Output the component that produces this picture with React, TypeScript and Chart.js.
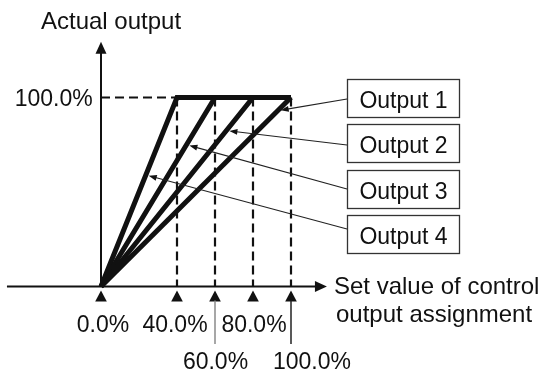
import { useEffect, useRef } from 'react';
import { Chart, registerables } from 'chart.js';

Chart.register(...registerables);

// ---------- data ----------
const SERIES_LABELS = ['Output 1', 'Output 2', 'Output 3', 'Output 4'];
const OUTPUT1_X = [0, 100];
const OUTPUT1_Y = [0, 100];
const OUTPUT2_X = [0, 80, 100];
const OUTPUT2_Y = [0, 100, 100];
const OUTPUT3_X = [0, 60, 100];
const OUTPUT3_Y = [0, 100, 100];
const OUTPUT4_X = [0, 40, 100];
const OUTPUT4_Y = [0, 100, 100];
const GUIDE_X = [40, 60, 80, 100];
const GUIDE_TOP = 100;
const TICK_VALUES = [0, 40, 60, 80, 100];
const TICK_LABELS = ['0.0%', '40.0%', '60.0%', '80.0%', '100.0%'];
const Y_TICK_VALUE = 100;
const Y_TICK_LABEL = '100.0%';
const Y_TITLE = 'Actual output';
const X_TITLE = ['Set value of control', 'output assignment'];
// where along each series (set value) the leader arrow points
const LEADER_TARGET_X = [93, 66, 45, 23.6];

// ---------- layout / style ----------
const W = 542;
const H = 371;
const FONT = '23px "Liberation Sans", Arial, Helvetica, sans-serif';
const TITLE_FONT = '24px "Liberation Sans", Arial, Helvetica, sans-serif';
const INK = '#111';

const X_ZERO_PX = 101;
const X_FULL_PX = 291;
const Y_ZERO_PX = 286.5;
const Y_FULL_PX = 97.5;
const X_UNIT = 100 / (X_FULL_PX - X_ZERO_PX);
const X_MIN = -X_ZERO_PX * X_UNIT;
const X_MAX = X_MIN + W * X_UNIT;
const Y_UNIT = 100 / (Y_ZERO_PX - Y_FULL_PX);
const Y_MAX = 100 + Y_FULL_PX * Y_UNIT;
const Y_MIN = Y_MAX - H * Y_UNIT;

const X_AXIS_START = -49.5;
const X_AXIS_TIP = 118.9;
const Y_AXIS_TIP = 129.5;

// tick label placement: [dx from tick, row]
const TICK_LABEL_DX = [2, -2, 0.5, 1, 21];
const TICK_LABEL_ROW = [0, 0, 1, 0, 1];
const TICK_CONNECTOR = [false, false, true, false, true];
const TICK_CONNECTOR_COLOR = ['', '', '#8a8a8a', '', '#222'];

const BOX_LEFT = 347;
const BOX_W = 112;
const BOX_H = 38;
const BOX_TOPS = [79, 124, 170, 215];
const LEADER_START_Y = [99, 145, 189, 229];

const SERIES_X = [OUTPUT1_X, OUTPUT2_X, OUTPUT3_X, OUTPUT4_X];
const SERIES_Y = [OUTPUT1_Y, OUTPUT2_Y, OUTPUT3_Y, OUTPUT4_Y];

function interp(xs: number[], ys: number[], t: number) {
  for (let i = 0; i < xs.length - 1; i++) {
    if (t >= xs[i] && t <= xs[i + 1]) {
      const f = (t - xs[i]) / (xs[i + 1] - xs[i]);
      return ys[i] + f * (ys[i + 1] - ys[i]);
    }
  }
  return ys[ys.length - 1];
}

function tri(ctx: CanvasRenderingContext2D, tx: number, ty: number, dx: number, dy: number, len: number, hw: number) {
  const bx = tx - dx * len;
  const by = ty - dy * len;
  const nx = -dy;
  const ny = dx;
  ctx.beginPath();
  ctx.moveTo(tx, ty);
  ctx.lineTo(bx + nx * hw, by + ny * hw);
  ctx.lineTo(bx - nx * hw, by - ny * hw);
  ctx.closePath();
  ctx.fill();
}

const diagramPlugin = {
  id: 'diagram',
  beforeDatasetsDraw(chart: any) {
    const ctx: CanvasRenderingContext2D = chart.ctx;
    const xs = chart.scales.x;
    const ys = chart.scales.y;
    const px = (v: number) => xs.getPixelForValue(v);
    const py = (v: number) => ys.getPixelForValue(v);
    ctx.save();
    ctx.strokeStyle = INK;
    ctx.fillStyle = INK;
    ctx.lineWidth = 2;
    const ay = py(0);
    const ax = px(0);
    ctx.beginPath();
    ctx.moveTo(px(X_AXIS_START), ay);
    ctx.lineTo(px(X_AXIS_TIP) - 8, ay);
    ctx.stroke();
    tri(ctx, px(X_AXIS_TIP), ay, 1, 0, 12, 5.5);
    ctx.beginPath();
    ctx.moveTo(ax, ay);
    ctx.lineTo(ax, py(Y_AXIS_TIP) + 8);
    ctx.stroke();
    tri(ctx, ax, py(Y_AXIS_TIP), 0, -1, 12, 5.5);
    ctx.restore();
  },
  afterDatasetsDraw(chart: any) {
    const ctx: CanvasRenderingContext2D = chart.ctx;
    const xs = chart.scales.x;
    const ys = chart.scales.y;
    const px = (v: number) => xs.getPixelForValue(v);
    const py = (v: number) => ys.getPixelForValue(v);
    const ay = py(0);
    ctx.save();
    ctx.fillStyle = INK;
    ctx.strokeStyle = INK;
    ctx.font = FONT;
    ctx.textBaseline = 'alphabetic';

    TICK_VALUES.forEach((v, i) => {
      const x = px(v);
      tri(ctx, x, ay + 4, 0, -1, 11, 5.8);
      if (TICK_CONNECTOR[i]) {
        ctx.save();
        ctx.strokeStyle = TICK_CONNECTOR_COLOR[i];
        ctx.lineWidth = 1.5;
        ctx.beginPath();
        ctx.moveTo(x, ay + 14);
        ctx.lineTo(x, ay + 57.5);
        ctx.stroke();
        ctx.restore();
      }
      ctx.textAlign = 'center';
      const by = TICK_LABEL_ROW[i] === 0 ? ay + 45.5 : ay + 82.5;
      ctx.fillText(TICK_LABELS[i], x + TICK_LABEL_DX[i], by);
    });

    ctx.textAlign = 'right';
    ctx.fillText(Y_TICK_LABEL, px(0) - 8.3, py(Y_TICK_VALUE) + 8.5);

    ctx.font = TITLE_FONT;
    ctx.textAlign = 'left';
    ctx.fillText(Y_TITLE, 41, 29.3);
    ctx.fillText(X_TITLE[0], 334, ay + 7.8);
    ctx.fillText(X_TITLE[1], 336, ay + 35.2);
    ctx.font = FONT;

    SERIES_LABELS.forEach((_, i) => {
      const t = LEADER_TARGET_X[i];
      const yv = interp(SERIES_X[i], SERIES_Y[i], t);
      const lx = px(t);
      const lyy = py(yv);
      const sx = BOX_LEFT;
      const sy = LEADER_START_Y[i];
      let dx = sx - lx;
      let dy = sy - lyy;
      const d = Math.hypot(dx, dy);
      dx /= d;
      dy /= d;
      const tipX = lx + dx * 3;
      const tipY = lyy + dy * 3;
      ctx.save();
      ctx.lineWidth = 1.1;
      ctx.strokeStyle = '#222';
      ctx.beginPath();
      ctx.moveTo(sx, sy);
      ctx.lineTo(tipX + dx * 5, tipY + dy * 5);
      ctx.stroke();
      ctx.fillStyle = '#111';
      tri(ctx, tipX, tipY, -dx, -dy, 8, 3);
      ctx.restore();
    });

    SERIES_LABELS.forEach((label, i) => {
      const top = BOX_TOPS[i];
      ctx.save();
      ctx.fillStyle = '#fff';
      ctx.fillRect(BOX_LEFT, top, BOX_W, BOX_H);
      ctx.strokeStyle = '#333';
      ctx.lineWidth = 1.3;
      ctx.strokeRect(BOX_LEFT + 0.5, top + 0.5, BOX_W, BOX_H);
      ctx.fillStyle = INK;
      ctx.textAlign = 'center';
      ctx.fillText(label, BOX_LEFT + BOX_W / 2 + 0.5, top + 28.5);
      ctx.restore();
    });

    ctx.restore();
  },
};

function pts(xs: number[], ys: number[]) {
  return xs.map((x, i) => ({ x, y: ys[i] }));
}

export default function App() {
  const ref = useRef<HTMLCanvasElement>(null);
  useEffect(() => {
    if (!ref.current) return;
    const thick = {
      borderColor: INK,
      borderWidth: 5,
      pointRadius: 0,
      fill: false,
      tension: 0,
      borderJoinStyle: 'miter' as const,
      borderCapStyle: 'butt' as const,
      order: 0,
    };
    const dashed = {
      borderColor: INK,
      borderWidth: 2.2,
      borderDash: [9, 5],
      pointRadius: 0,
      fill: false,
      tension: 0,
      order: 1,
    };
    const datasets: any[] = SERIES_LABELS.map((label, i) => ({
      label,
      data: pts(SERIES_X[i], SERIES_Y[i]),
      ...thick,
    }));
    GUIDE_X.forEach((g) => {
      datasets.push({ label: 'guide ' + g, data: [{ x: g, y: GUIDE_TOP }, { x: g, y: 0 }], ...dashed });
    });
    datasets.push({ label: 'guide top', data: [{ x: 0, y: GUIDE_TOP }, { x: GUIDE_X[0], y: GUIDE_TOP }], ...dashed });

    const chart = new Chart(ref.current, {
      type: 'line',
      data: { datasets },
      options: {
        responsive: false,
        animation: false,
        events: [],
        layout: { padding: 0 },
        scales: {
          x: { type: 'linear', min: X_MIN, max: X_MAX, display: false },
          y: { type: 'linear', min: Y_MIN, max: Y_MAX, display: false },
        },
        plugins: { legend: { display: false }, tooltip: { enabled: false } },
      },
      plugins: [diagramPlugin],
    });
    return () => chart.destroy();
  }, []);
  return (
    <canvas
      ref={ref}
      width={W}
      height={H}
      style={{ position: 'absolute', left: 0, top: 0, width: W, height: H, display: 'block', background: '#fff' }}
    />
  );
}
